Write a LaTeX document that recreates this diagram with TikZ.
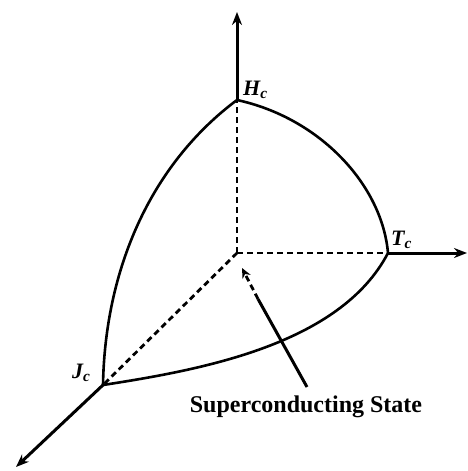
\documentclass[tikz,border=0pt]{standalone}
\usepackage{fontspec}
\setmainfont{Liberation Serif}
\usetikzlibrary{arrows.meta}
\begin{document}
\begin{tikzpicture}[x=1pt, y=-1pt, >={Stealth[length=13pt,width=10pt]},
  axis/.style={line width=3pt},
  hidden/.style={line width=2.8pt, dash pattern=on 6pt off 4pt},
  bound/.style={line width=2.6pt},
  lbl/.style={font=\fontsize{22}{24}\selectfont\bfseries\itshape}]
\useasboundingbox (0,0) rectangle (468,471);
\coordinate (origin) at (237,253);
\coordinate (hc) at (237,100);
\coordinate (tc) at (388,253);
\coordinate (jc) at (103,385);
\coordinate (hend) at (237,12);
\coordinate (tend) at (467,253);
\coordinate (jend) at (16,467);
\coordinate (tip) at (242,268);
\coordinate (brk) at (258,299);
\node[font=\fontsize{24}{26}\selectfont\bfseries, anchor=base] (state) at (306,412) {Superconducting State};
\coordinate (tail) at (307,387);
\node[lbl, anchor=base west, inner sep=0pt] (hlab) at (243,95) {H\textsubscript{c}};
\node[lbl, anchor=base west, inner sep=0pt] (tlab) at (391,245) {T\textsubscript{c}};
\node[lbl, anchor=base west, inner sep=0pt] (jlab) at (72,378) {J\textsubscript{c}};
% axes
\draw[hidden] (origin) -- (hc);
\draw[hidden] (origin) -- (tc);
\draw[hidden] (origin) -- (jc);
\draw[axis,->] (hc) -- (hend);
\draw[axis,->] (tc) -- (tend);
\draw[axis,->] (jc) -- (jend);
% critical surface
\draw[bound] (hc) .. controls (320,118) and (382,185) .. (tc);
\draw[bound] (hc) .. controls (150,165) and (105,270) .. (jc);
\draw[bound] (jc) .. controls (200,370) and (340,345) .. (tc);
% pointer
\draw[axis] (tail) -- (brk);
\draw[hidden,-{Stealth[length=10pt,width=9pt]}] (brk) -- (tip);
\end{tikzpicture}
\end{document}
